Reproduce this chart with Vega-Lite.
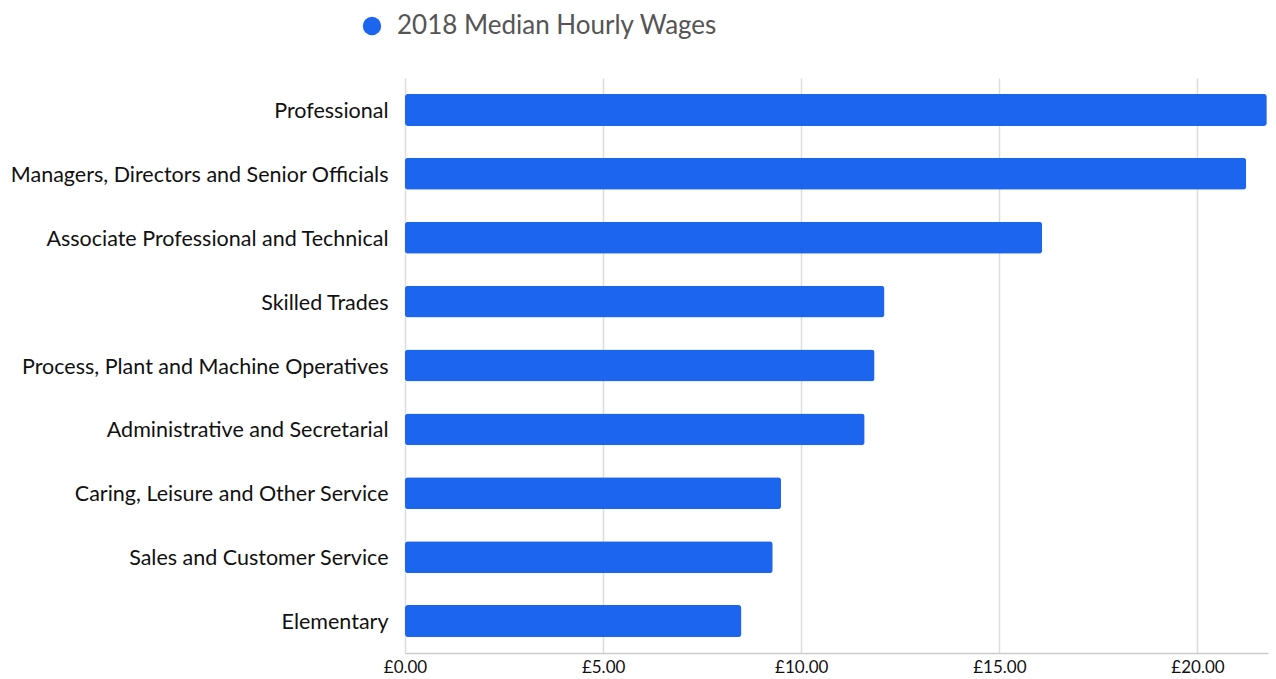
{
  "$schema": "https://vega.github.io/schema/vega-lite/v6.json",
  "autosize": "none",
  "width": 863,
  "height": 575,
  "padding": {"left": 405, "top": 78, "right": 8, "bottom": 26},
  "background": "white",
  "config": {"font": "Lato", "view": {"stroke": null}},
  "data": {
    "values": [
      {"occupation": "Professional", "wage": 21.75, "series": "2018 Median Hourly Wages"},
      {"occupation": "Managers, Directors and Senior Officials", "wage": 21.23, "series": "2018 Median Hourly Wages"},
      {"occupation": "Associate Professional and Technical", "wage": 16.08, "series": "2018 Median Hourly Wages"},
      {"occupation": "Skilled Trades", "wage": 12.10, "series": "2018 Median Hourly Wages"},
      {"occupation": "Process, Plant and Machine Operatives", "wage": 11.85, "series": "2018 Median Hourly Wages"},
      {"occupation": "Administrative and Secretarial", "wage": 11.60, "series": "2018 Median Hourly Wages"},
      {"occupation": "Caring, Leisure and Other Service", "wage": 9.49, "series": "2018 Median Hourly Wages"},
      {"occupation": "Sales and Customer Service", "wage": 9.28, "series": "2018 Median Hourly Wages"},
      {"occupation": "Elementary", "wage": 8.49, "series": "2018 Median Hourly Wages"}
    ]
  },
  "mark": {"type": "bar", "cornerRadius": 3},
  "encoding": {
    "y": {
      "field": "occupation",
      "type": "nominal",
      "sort": null,
      "scale": {"paddingInner": 0.5, "paddingOuter": 0.25},
      "axis": {
        "title": null,
        "domain": false,
        "ticks": false,
        "labelPadding": 17,
        "labelFontSize": 21.5,
        "labelColor": "#111111",
        "labelFont": "Lato",
        "labelLimit": 420,
        "labelOffset": 2
      }
    },
    "x": {
      "field": "wage",
      "type": "quantitative",
      "scale": {"domain": [0, 21.78], "nice": false, "zero": true},
      "axis": {
        "title": null,
        "values": [0, 5, 10, 15, 20],
        "labelExpr": "'£' + format(datum.value, '.2f')",
        "labelFlush": false,
        "ticks": false,
        "domainColor": "#cccccc",
        "domainWidth": 1.5,
        "gridColor": "#dddddd",
        "gridWidth": 1.5,
        "labelFontSize": 17,
        "labelColor": "#111111",
        "labelFont": "Lato",
        "labelPadding": 6
      }
    },
    "color": {
      "field": "series",
      "type": "nominal",
      "scale": {"range": ["#1c65ee"]},
      "legend": {
        "title": null,
        "orient": "none",
        "legendX": -46,
        "legendY": -65,
        "symbolType": "circle",
        "symbolSize": 340,
        "labelFontSize": 26,
        "labelColor": "#555555",
        "labelFont": "Lato",
        "labelOffset": 12,
        "labelLimit": 600
      }
    }
  }
}
